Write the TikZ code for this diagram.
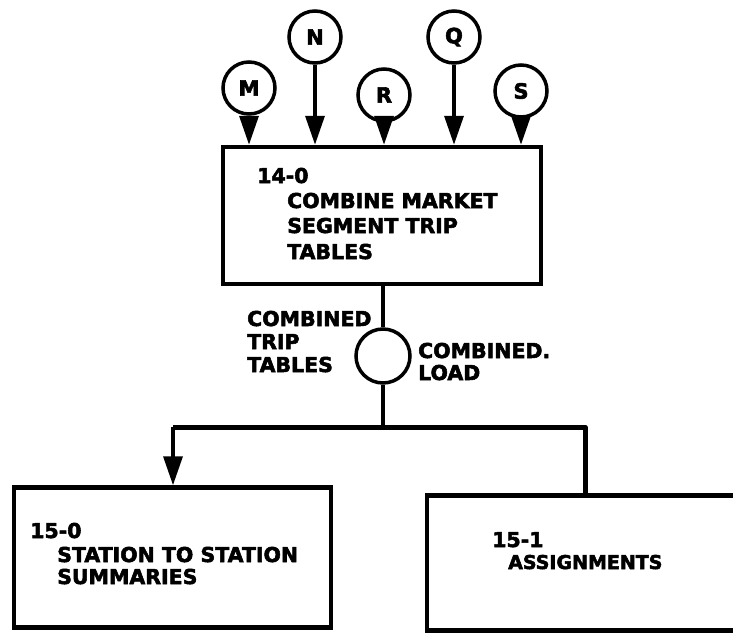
\documentclass[tikz,border=0pt]{standalone}
\usepackage{fontspec}
\setmainfont{DejaVu Sans}[BoldFeatures={FakeBold=2.6}]
\usetikzlibrary{arrows.meta}
\begin{document}
\begin{tikzpicture}[x=1pt,y=-1pt,
  every node/.style={font=\bfseries},
  proc/.style={draw,line width=4.5pt,rectangle,inner sep=0pt},
  ext/.style={draw,circle,line width=3.5pt,minimum size=52pt,inner sep=0pt,font=\bfseries\fontsize{21}{21}\selectfont},
  store/.style={draw,circle,line width=3.5pt,minimum size=54pt,inner sep=0pt},
  txt/.style={anchor=base west,inner sep=0pt,font=\bfseries\fontsize{20.5}{20.5}\selectfont},
  flow/.style={line width=3.5pt,-{Triangle[width=19pt,length=29pt]}},
  link/.style={line width=3.5pt},
  bar/.style={line width=5pt,line join=round}]
\useasboundingbox (0,0) rectangle (733,634);

% input circles
\node[ext] (m) at (249,88) {M};
\node[ext] (n) at (315,37) {N};
\node[ext] (r) at (384,95) {R};
\node[ext] (q) at (454,37) {Q};
\node[ext] (s) at (521,91) {S};

% process 14-0
\node[proc,minimum width=318pt,minimum height=137pt] (p14) at (382,215.5) {};
\node[txt] (p14n) at (257,183) {14-0};
\node[txt] (p14a) at (287,208) {COMBINE MARKET};
\node[txt] (p14b) at (287,233) {SEGMENT TRIP};
\node[txt] (p14c) at (287,259) {TABLES};

\foreach \c in {m,n,r,q,s}
  \draw[flow] (\c.south) -- (\c.south |- p14.north);

% data store between processes
\node[store] (st) at (383,356) {};
\node[txt] (ctt1) at (247,326) {COMBINED};
\node[txt] (ctt2) at (247,349) {TRIP};
\node[txt] (ctt3) at (247,372) {TABLES};
\node[txt] (cl1) at (418,358) {COMBINED.};
\node[txt] (cl2) at (418,380) {LOAD};

% processes 15-0 and 15-1
\node[proc,minimum width=317pt,minimum height=140pt] (p150) at (172.5,557.5) {};
\node[txt] (p150n) at (30,538) {15-0};
\node[txt] (p150a) at (57,562) {STATION TO STATION};
\node[txt] (p150b) at (57,584) {SUMMARIES};

\node[proc,minimum width=330pt,minimum height=135pt] (p151) at (592,563) {};
\node[txt] (p151n) at (492,547) {15-1};
\node[txt,font=\bfseries\fontsize{19}{19}\selectfont] (p151a) at (508,569) {ASSIGNMENTS};

% connectors
\coordinate (split) at (383,427);
\coordinate (bl) at (173,427);
\coordinate (br) at (585,427);
\draw[link] (st.north |- p14.south) -- (st.north);
\draw[link] (st.south) -- (split);
\draw[bar] (bl) -- (br) -- (br |- p151.north);
\draw[flow] (bl) -- (bl |- p150.north);
\end{tikzpicture}
\end{document}
